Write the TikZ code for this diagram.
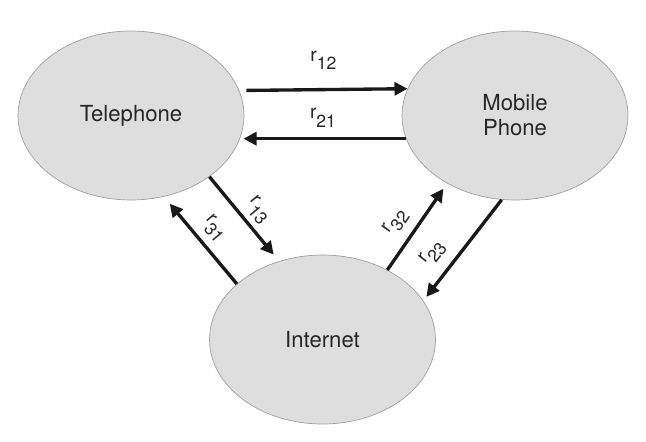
\documentclass[tikz,border=0pt]{standalone}
\usepackage{fontspec}
\setmainfont{TeX Gyre Heros}
\usepackage{tikz}
\usetikzlibrary{positioning,arrows.meta,shapes.geometric,calc}
\newcommand{\rsub}[1]{r\raisebox{-4.8pt}{\fontsize{10}{10}\selectfont #1}}
\tikzset{
medium/.style={
ellipse,
draw=gray!75,
fill=black!13,
minimum width=4.52cm,
minimum height=3.38cm,
inner sep=0pt,
align=center,
text=black!85,
font=\fontsize{12.6}{14.2}\selectfont
},
arrow/.style={
-{Triangle[length=7.4pt,width=7.4pt]},
line width=1.9pt,
black!90
},
rate/.style={
inner sep=0pt,
text=black!85,
font=\fontsize{11}{11}\selectfont
}
}

\begin{document}
\begin{tikzpicture}[x=0.02cm,y=0.02cm]
\useasboundingbox (0,0) rectangle (646,441);
\node[medium](tel) at (131,325.5){Telephone};
\node[medium](mob) at (515,325.5){Mobile\\Phone};
\node[medium](int) at (322.5,101.5){Internet};

\draw[arrow,shorten <=4pt](tel.13.3)--node[rate,above=10.3pt]{\rsub{12}}(mob.166.7);
\draw[arrow,shorten >=2pt](mob.192.2)--node[rate,above=5.5pt]{\rsub{21}}(tel.-12.2);
\draw[arrow,shorten >=4.8pt](tel.-38.4)--node[rate,sloped,above=2.9pt,pos=.52]{\rsub{13}}(int.119.6);
\draw[arrow,shorten >=5.2pt](int.147.1)--node[rate,sloped,above=4.1pt]{\rsub{31}}(tel.-68.1);
\draw[arrow,shorten >=3.7pt](int.47.5)--node[rate,sloped,above=5.3pt,pos=.42]{\rsub{32}}(mob.225.8);
\draw[arrow,shorten >=2.8pt](mob.261.9)--node[rate,sloped,above=6.2pt,pos=.66]{\rsub{23}}(int.21);
\end{tikzpicture}
\end{document}
